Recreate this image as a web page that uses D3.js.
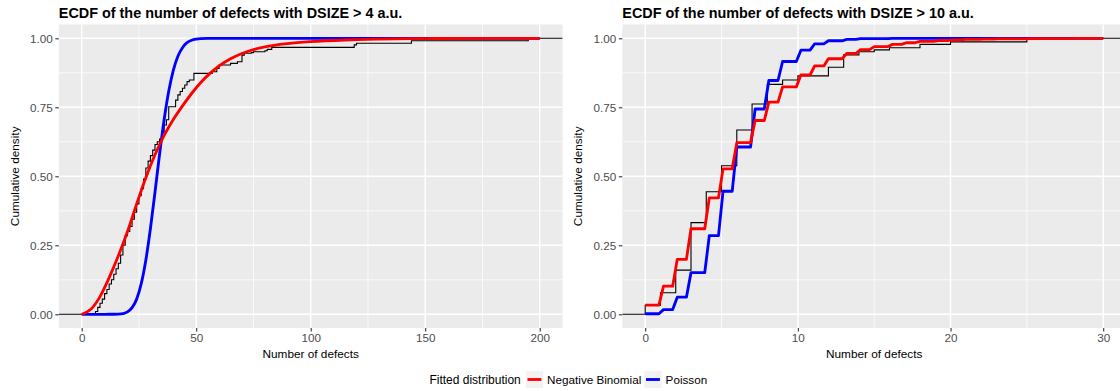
<!DOCTYPE html>
<html>
<head>
<meta charset="utf-8">
<script src="https://cdn.jsdelivr.net/npm/d3@7"></script>
<style>
  html, body { margin: 0; padding: 0; background: #ffffff; }
  svg { display: block; font-family: "Liberation Sans", Arial, Helvetica, sans-serif; }
</style>
</head>
<body>
<svg id="chart" width="1120" height="391"></svg>
<script>
// ---------- DSIZE > 4 a.u. ----------
// empirical CDF: defect counts where the step occurs and the cumulative share reached there
const ecdf4Counts = [6,7,8,9,10,11,12,13,14,15,16,17,18,19,20,21,22,23,24,25,26,27,28,29,30,31,32,33,34,35,36,37,38,41,42,43,44,45,46,47,49,57,59,60,65,68,70,71,74,75,80,81,83,119,120,144,195];
const ecdf4Cum    = [0.010,0.025,0.040,0.055,0.075,0.090,0.110,0.125,0.145,0.165,0.185,0.215,0.250,0.285,0.300,0.318,0.345,0.370,0.400,0.430,0.455,0.490,0.530,0.555,0.575,0.595,0.615,0.625,0.635,0.660,0.686,0.705,0.752,0.776,0.795,0.807,0.819,0.831,0.843,0.849,0.873,0.879,0.891,0.903,0.909,0.915,0.939,0.946,0.948,0.951,0.955,0.960,0.967,0.976,0.982,0.991,1.000];
// fitted negative binomial CDF
const nb4X   = [0,4,8,12,16,20,24,28,32,36,40,44,48,52,56,60,65,70,75,80,90,100,115,130,150,175,200];
const nb4Cdf = [0.000,0.018,0.064,0.133,0.212,0.300,0.400,0.495,0.578,0.648,0.706,0.755,0.800,0.840,0.873,0.900,0.926,0.945,0.959,0.969,0.981,0.988,0.994,0.997,0.999,1.000,1.000];
// fitted Poisson CDF
const pois4X   = [0,10,14,16,18,20,22,24,26,28,30,32,34,36,38,40,42,44,46,48,50,52,55,60,200];
const pois4Cdf = [0,0,0.0001,0.0005,0.0025,0.0086,0.024,0.055,0.111,0.196,0.310,0.442,0.580,0.705,0.808,0.884,0.935,0.966,0.984,0.993,0.997,0.999,1,1,1];

// ---------- DSIZE > 10 a.u. ----------
const ecdf10Counts = [0,1,2,3,4,5,6,7,8,9,10,12,13,14,15,16,18,20,25];
const ecdf10Cum    = [0.033,0.078,0.160,0.332,0.444,0.538,0.668,0.762,0.833,0.849,0.864,0.895,0.940,0.951,0.958,0.966,0.978,0.987,1.000];
// fitted CDFs at each whole count 0..30
const fit10Counts = [0,1,2,3,4,5,6,7,8,9,10,11,12,13,14,15,16,17,18,19,20,21,22,23,24,25,26,27,28,29,30];
const nb10Cdf   = [0.033,0.102,0.199,0.310,0.422,0.527,0.622,0.702,0.769,0.824,0.867,0.900,0.926,0.945,0.959,0.970,0.978,0.984,0.989,0.992,0.994,0.996,0.997,0.998,0.998,0.999,0.999,0.999,1.000,1.000,1.000];
const pois10Cdf = [0.002,0.017,0.062,0.151,0.285,0.446,0.606,0.744,0.847,0.916,0.957,0.980,0.991,0.996,0.999,0.999,1,1,1,1,1,1,1,1,1,1,1,1,1,1,1];

// axis ticks
const yTicks = [0, 0.25, 0.5, 0.75, 1];
const yMinor = [0.125, 0.375, 0.625, 0.875];
const xTicks4 = [0, 50, 100, 150, 200];
const xMinor4 = [25, 75, 125, 175];
const xTicks10 = [0, 10, 20, 30];
const xMinor10 = [5, 15, 25];

const legendTitle = "Fitted distribution";
const legendLabels = ["Negative Binomial", "Poisson"];
const fitColors = { nb: "#FF0000", pois: "#0000FF" };

const svg = d3.select("#chart");
const panelTop = 24.5, panelBottom = 328.1, panelWidth = 503.8;
const y = d3.scaleLinear().domain([-0.05, 1.05]).range([panelBottom, panelTop]);

function drawPanel(opt) {
  const x = d3.scaleLinear().domain(opt.domain).range([opt.left, opt.left + panelWidth]);
  const g = svg.append("g");
  const clipId = "clip-" + opt.id;
  svg.append("clipPath").attr("id", clipId)
    .append("rect").attr("x", opt.left).attr("y", panelTop)
    .attr("width", panelWidth).attr("height", panelBottom - panelTop);

  g.append("rect").attr("x", opt.left).attr("y", panelTop)
    .attr("width", panelWidth).attr("height", panelBottom - panelTop)
    .attr("fill", "#EBEBEB");

  const grid = g.append("g").attr("clip-path", `url(#${clipId})`);
  // minor grid
  grid.selectAll(".ymin").data(yMinor).join("line")
    .attr("x1", opt.left).attr("x2", opt.left + panelWidth)
    .attr("y1", d => y(d)).attr("y2", d => y(d))
    .attr("stroke", "#FFFFFF").attr("stroke-width", 0.75);
  grid.selectAll(".xmin").data(opt.xMinor).join("line")
    .attr("y1", panelTop).attr("y2", panelBottom)
    .attr("x1", d => x(d)).attr("x2", d => x(d))
    .attr("stroke", "#FFFFFF").attr("stroke-width", 0.75);
  // major grid
  grid.selectAll(".ymaj").data(yTicks).join("line")
    .attr("x1", opt.left).attr("x2", opt.left + panelWidth)
    .attr("y1", d => y(d)).attr("y2", d => y(d))
    .attr("stroke", "#FFFFFF").attr("stroke-width", 1.45);
  grid.selectAll(".xmaj").data(opt.xTicks).join("line")
    .attr("y1", panelTop).attr("y2", panelBottom)
    .attr("x1", d => x(d)).attr("x2", d => x(d))
    .attr("stroke", "#FFFFFF").attr("stroke-width", 1.45);

  const marks = g.append("g").attr("clip-path", `url(#${clipId})`);

  // empirical CDF as a step line, padded to both panel edges
  const ecdfPts = [[opt.domain[0], 0]]
    .concat(opt.ecdfX.map((d, i) => [d, opt.ecdfY[i]]))
    .concat([[opt.domain[1], 1]]);
  marks.append("path")
    .attr("d", d3.line().x(d => x(d[0])).y(d => y(d[1])).curve(d3.curveStepAfter)(ecdfPts))
    .attr("fill", "none").attr("stroke", "#000000").attr("stroke-width", 1.1);

  // fitted CDFs
  opt.fits.forEach(f => {
    marks.append("path")
      .attr("d", d3.line().x(d => x(d[0])).y(d => y(d[1])).curve(f.curve)(f.points))
      .attr("fill", "none").attr("stroke", f.color).attr("stroke-width", 2.85)
      .attr("stroke-linejoin", "round");
  });

  // axes
  const xAxis = g.append("g").attr("transform", `translate(0,${panelBottom})`)
    .call(d3.axisBottom(x).tickValues(opt.xTicks).tickSize(3.5).tickPadding(2.5).tickFormat(d3.format("d")));
  const yAxis = g.append("g").attr("transform", `translate(${opt.left},0)`)
    .call(d3.axisLeft(y).tickValues(yTicks).tickSize(3.5).tickPadding(2.5).tickFormat(d3.format(".2f")));
  [xAxis, yAxis].forEach(a => {
    a.select(".domain").remove();
    a.selectAll(".tick line").attr("stroke", "#333333").attr("stroke-width", 1.1);
    a.selectAll(".tick text").attr("fill", "#4D4D4D").style("font-size", "11.7px")
      .style("font-family", '"Liberation Sans", Arial, sans-serif');
  });

  // titles
  g.append("text").attr("x", opt.left).attr("y", 17.5)
    .style("font-size", "14.4px").style("font-weight", "bold").attr("fill", "#000")
    .text(opt.title);
  g.append("text").attr("x", opt.left + panelWidth / 2).attr("y", 357.5)
    .attr("text-anchor", "middle").style("font-size", "11.8px").attr("fill", "#000")
    .text("Number of defects");
  g.append("text").attr("transform", `translate(${opt.left - 40.3},${(y(0) + y(1)) / 2}) rotate(-90)`)
    .attr("text-anchor", "middle").style("font-size", "11.8px").attr("fill", "#000")
    .text("Cumulative density");
}

// step-shaped fitted CDFs for the right panel, evaluated on a fine grid of counts
const grid10 = d3.range(0, 101).map(i => i * 0.3);
function stepPoints(cdf) {
  return grid10.map(v => [v, cdf[fit10Counts.indexOf(Math.floor(v + 1e-9))]]);
}

drawPanel({
  id: "a", left: 58.8, domain: [-10, 210],
  xTicks: xTicks4, xMinor: xMinor4,
  title: "ECDF of the number of defects with DSIZE > 4 a.u.",
  ecdfX: ecdf4Counts, ecdfY: ecdf4Cum,
  fits: [
    { color: fitColors.pois, curve: d3.curveMonotoneX, points: pois4X.map((d, i) => [d, pois4Cdf[i]]) },
    { color: fitColors.nb,   curve: d3.curveMonotoneX, points: nb4X.map((d, i) => [d, nb4Cdf[i]]) }
  ]
});

drawPanel({
  id: "b", left: 622.3, domain: [-1.5, 31.5],
  xTicks: xTicks10, xMinor: xMinor10,
  title: "ECDF of the number of defects with DSIZE > 10 a.u.",
  ecdfX: ecdf10Counts, ecdfY: ecdf10Cum,
  fits: [
    { color: fitColors.pois, curve: d3.curveLinear, points: stepPoints(pois10Cdf) },
    { color: fitColors.nb,   curve: d3.curveLinear, points: stepPoints(nb10Cdf) }
  ]
});

// legend at the bottom
const legend = svg.append("g");
const lgY = 379.5, keySize = 17.3;
let cx = 0;
const lt = legend.append("text").attr("x", cx).attr("y", lgY + 4.2)
  .style("font-size", "12px").attr("fill", "#000").text(legendTitle);
cx += lt.node().getComputedTextLength() + 5;
[fitColors.nb, fitColors.pois].forEach((c, i) => {
  legend.append("rect").attr("x", cx).attr("y", lgY - keySize / 2)
    .attr("width", keySize).attr("height", keySize).attr("fill", "#F2F2F2");
  legend.append("line").attr("x1", cx + 1.7).attr("x2", cx + keySize - 1.7)
    .attr("y1", lgY).attr("y2", lgY).attr("stroke", c).attr("stroke-width", 2.85);
  cx += keySize + 4;
  const t = legend.append("text").attr("x", cx).attr("y", lgY + 4.2)
    .style("font-size", "11.7px").attr("fill", "#000").text(legendLabels[i]);
  cx += t.node().getComputedTextLength() + 3;
});
const lgWidth = cx - 3;
legend.attr("transform", `translate(${568.3 - lgWidth / 2},0)`);
</script>
</body>
</html>
